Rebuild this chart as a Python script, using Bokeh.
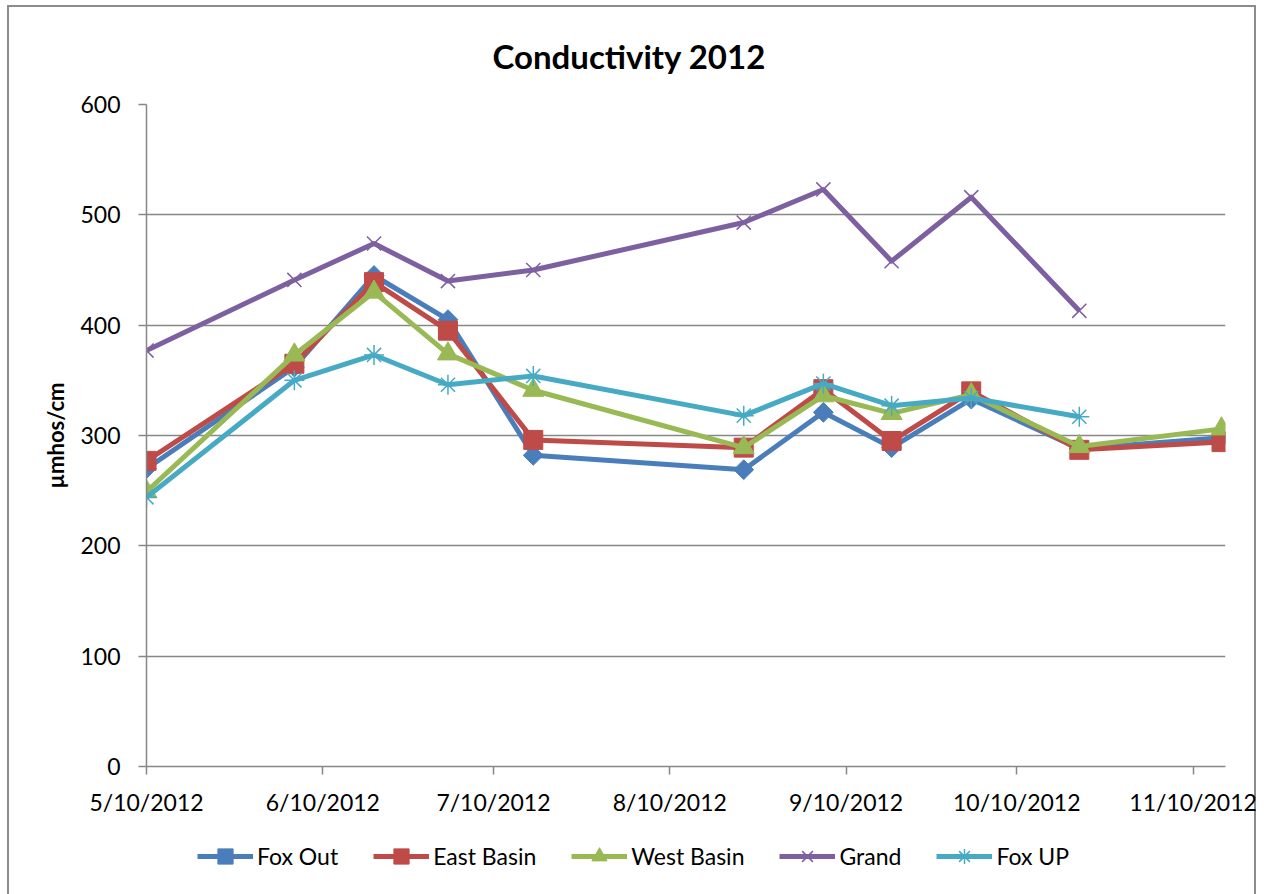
import math
import pandas as pd
from bokeh.plotting import figure
from bokeh.layouts import column
from bokeh.models import (FixedTicker, Range1d, Legend, LegendItem,
                          ColumnDataSource)
from bokeh.embed import file_html
from bokeh.resources import INLINE

# Sampling dates and conductivity readings (µmhos/cm) per site
sample_dates = ["2012-05-10", "2012-06-05", "2012-06-19", "2012-07-02",
                "2012-07-17", "2012-08-23", "2012-09-06", "2012-09-18",
                "2012-10-02", "2012-10-21", "2012-11-15"]
fox_out = [270, 362, 445, 405, 282, 269, 321, 289, 333, 288, 298]
east_basin = [277, 365, 439, 395, 296, 289, 342, 295, 340, 287, 294]
west_basin = [249, 373, 430, 374, 341, 289, 336, 320, 337, 290, 306]
grand = [377, 441, 474, 440, 450, 493, 523, 458, 516, 413]
fox_up = [244, 350, 373, 346, 354, 318, 347, 327, 334, 317]

series_names = ["Fox Out", "East Basin", "West Basin", "Grand", "Fox UP"]
series_colors = ["#4A7EBB", "#BE4B48", "#98B954", "#7D60A0", "#46AAC5"]

tick_dates = ["2012-05-10", "2012-06-10", "2012-07-10", "2012-08-10",
              "2012-09-10", "2012-10-10", "2012-11-10"]
tick_labels = ["5/10/2012", "6/10/2012", "7/10/2012", "8/10/2012",
               "9/10/2012", "10/10/2012", "11/10/2012"]
y_ticks = [0, 100, 200, 300, 400, 500, 600]

FONT = "Lato"
GRID = "#878787"
EDGE = "#8c8c8c"
EDGE_LINE = f"linear-gradient({EDGE},{EDGE})"


def to_ms(d):
    return pd.Timestamp(d).value / 1e6


x_start = to_ms("2012-05-10")
x_end = to_ms("2012-11-15") + 0.7 * 86400000

# ---- main chart -------------------------------------------------------
p = figure(width=1266, height=826, x_axis_type="datetime",
           output_backend="svg", toolbar_location=None,
           x_range=Range1d(x_start, x_end), y_range=Range1d(0, 600),
           min_border_left=146, min_border_right=41,
           min_border_top=104, min_border_bottom=60)
p.outline_line_color = None
p.background_fill_color = "white"
p.border_fill_color = None
# grey chart frame (top, left, right) painted behind the canvas
p.styles = {
    "background": (f"{EDGE_LINE} 7px 5px / 1249px 2px no-repeat, "
                   f"{EDGE_LINE} 7px 5px / 2px 900px no-repeat, "
                   f"{EDGE_LINE} 1254px 5px / 2px 900px no-repeat, white"),
}

# title
p.title.text = "Conductivity 2012"
p.title.align = "left"
p.title.offset = 346
p.title.standoff = 58
p.title.text_font = FONT
p.title.text_font_size = "33px"
p.title.text_font_style = "bold"
p.title.text_color = "black"

# axes
p.xaxis.ticker = FixedTicker(ticks=[to_ms(d) for d in tick_dates])
p.xaxis.major_label_overrides = {to_ms(d): t for d, t in zip(tick_dates, tick_labels)}
p.yaxis.ticker = FixedTicker(ticks=y_ticks)
for ax in (p.xaxis, p.yaxis):
    ax.axis_line_color = GRID
    ax.axis_line_width = 1.5
    ax.major_tick_line_color = GRID
    ax.major_tick_line_width = 1.5
    ax.major_tick_in = 0
    ax.major_tick_out = 8
    ax.minor_tick_line_color = None
    ax.major_label_text_font = FONT
    ax.major_label_text_font_size = "23px"
    ax.major_label_text_color = "black"
p.xaxis.major_label_standoff = 13
p.yaxis.major_label_standoff = 18
p.yaxis.axis_label = "µmhos/cm"
p.yaxis.axis_label_text_font = FONT
p.yaxis.axis_label_text_font_size = "22px"
p.yaxis.axis_label_text_font_style = "bold"
p.yaxis.axis_label_text_color = "black"
p.yaxis.axis_label_standoff = 8

p.xgrid.grid_line_color = None
p.ygrid.grid_line_color = GRID
p.ygrid.grid_line_width = 1.5

# ---- legend strip below the chart ------------------------------------
lg = figure(width=1266, height=68, output_backend="svg", toolbar_location=None,
            x_range=Range1d(0, 1), y_range=Range1d(0, 1),
            x_axis_location=None, y_axis_location=None, min_border=0)
lg.outline_line_color = None
lg.grid.visible = False
lg.background_fill_color = None
lg.border_fill_color = None
lg.styles = {
    "background": (f"{EDGE_LINE} 7px 0px / 2px 100px no-repeat, "
                   f"{EDGE_LINE} 1254px 0px / 2px 100px no-repeat, white"),
}

# series: line plus marker, drawn in series order; the legend strip reuses
# each series' source (its ranges keep those glyphs out of view)
series_values = [fox_out, east_basin, west_basin, grand, fox_up]
markers = ["square", "square", "triangle", "x", "asterisk"]
marker_angles = [math.pi / 4, 0, 0, 0, 0]
marker_sizes = [14, 19, 21, 20, 20]
legend_items = []
for name, color, vals, mk, ang, ms in zip(series_names, series_colors,
                                          series_values, markers,
                                          marker_angles, marker_sizes):
    src = ColumnDataSource(dict(x=pd.to_datetime(sample_dates[:len(vals)]), y=vals))
    if mk in ("x", "asterisk"):
        mstyle = dict(line_color=color, line_width=1.5)
    else:
        mstyle = dict(fill_color=color, line_color=color, line_width=1)
    p.line("x", "y", source=src, line_color=color, line_width=5,
           line_join="round")
    p.scatter("x", "y", source=src, marker=mk, size=ms, angle=ang, **mstyle)
    ln = lg.line("x", "y", source=src, line_color=color, line_width=5)
    sc = lg.scatter("x", "y", source=src, marker=mk, angle=ang, **mstyle)
    legend_items.append(LegendItem(label=name, renderers=[ln, sc]))

legend = Legend(items=legend_items, orientation="horizontal",
                location=(51, 19), margin=0, padding=0,
                glyph_width=56, glyph_height=38, label_standoff=4,
                spacing=35, border_line_color=None, background_fill_alpha=0,
                label_text_font=FONT, label_text_font_size="23px",
                label_text_color="black")
lg.add_layout(legend, "center")

page = column(p, lg, spacing=0)
open("out.html", "w").write(file_html(page, INLINE))
